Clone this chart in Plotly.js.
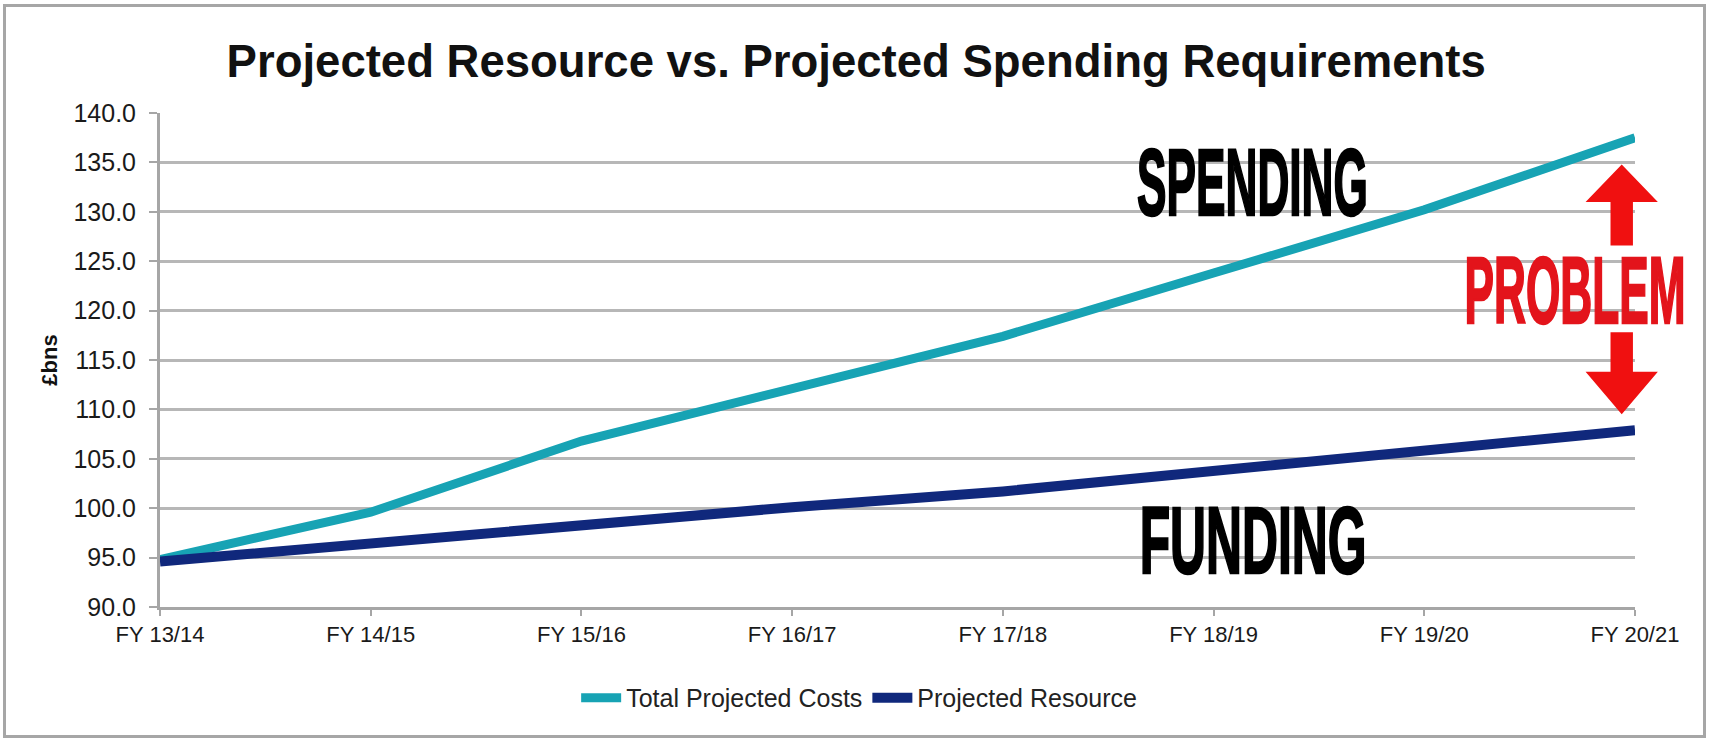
<!DOCTYPE html>
<html>
<head>
<meta charset="utf-8">
<script src="https://cdn.plot.ly/plotly-3.0.1.min.js"></script>
<style>
  html, body { margin: 0; padding: 0; background: #ffffff; }
  #wrap { position: relative; width: 1709px; height: 739px; }
  #chart { width: 1709px; height: 739px; }
  #frame { position: absolute; left: 3px; top: 4px; width: 1697px; height: 728px;
           border: 3px solid #a6a6a6; pointer-events: none; }
</style>
</head>
<body>
<div id="wrap">
  <div id="chart"></div>
  <div id="frame"></div>
</div>
<script>
const categories = ['FY 13/14', 'FY 14/15', 'FY 15/16', 'FY 16/17', 'FY 17/18', 'FY 18/19', 'FY 19/20', 'FY 20/21'];
const totalProjectedCosts = [94.8, 99.6, 106.8, 112.0, 117.4, 123.8, 130.2, 137.5];
const projectedResource = [94.6, 96.4, 98.4, 100.1, 101.7, 103.7, 105.8, 107.9];
const seriesNames = ['Total Projected Costs', 'Projected Resource'];
const yTickValues = [90, 95, 100, 105, 110, 115, 120, 125, 130, 135, 140];
const titleText = 'Projected Resource vs. Projected Spending Requirements';
const yTitleText = '£bns';
const labelSpending = 'SPENDING';
const labelFunding = 'FUNDING';
const labelProblem = 'PROBLEM';

const traces = [
  { x: categories, y: totalProjectedCosts, name: seriesNames[0], type: 'scatter', mode: 'lines',
    line: { color: '#17a3b4', width: 9 } },
  { x: categories, y: projectedResource, name: seriesNames[1], type: 'scatter', mode: 'lines',
    line: { color: '#10287c', width: 10 } }
];

// arrow geometry (decoration), paper x / data y
const ax = 0.991, headW = 0.0245, shaftW = 0.0076;
const upTip = 134.8, upBase = 131.0, upEnd = 126.6;
const dnTip = 109.5, dnBase = 113.8, dnEnd = 117.8;
function arrowPath(tip, base, end) {
  return 'M ' + ax + ',' + tip +
    ' L ' + (ax + headW) + ',' + base +
    ' L ' + (ax + shaftW) + ',' + base +
    ' L ' + (ax + shaftW) + ',' + end +
    ' L ' + (ax - shaftW) + ',' + end +
    ' L ' + (ax - shaftW) + ',' + base +
    ' L ' + (ax - headW) + ',' + base + ' Z';
}

const bigFont = { family: '"Liberation Sans Narrow", "Liberation Sans", Arial, sans-serif', size: 94, color: '#000000', weight: 'bold' };

const layout = {
  width: 1709, height: 739,
  margin: { l: 160, r: 74, t: 113, b: 132 },
  paper_bgcolor: '#ffffff', plot_bgcolor: '#ffffff',
  font: { family: '"Liberation Sans", Arial, sans-serif', color: '#222222' },
  title: { text: titleText, x: 0.501, xref: 'container', y: 0.918, yref: 'container', yanchor: 'middle',
           font: { family: '"Liberation Sans", Arial, sans-serif', size: 45.5, color: '#111111', weight: 'bold' } },
  showlegend: true,
  legend: { orientation: 'h', x: 0.474, xanchor: 'center', y: -0.184, yanchor: 'middle',
            font: { size: 25, color: '#222222' }, itemwidth: 40, tracegroupgap: 0 },
  xaxis: { type: 'category', range: [0, 7], showgrid: false, zeroline: false,
           showline: true, linecolor: '#a6a6a6', linewidth: 3,
           ticks: 'outside', ticklen: 6, tickwidth: 2, tickcolor: '#a6a6a6',
           ticklabelstandoff: 0, tickfont: { size: 22, color: '#1a1a1a' } },
  yaxis: { range: [90, 140], tickvals: yTickValues, tickformat: '.1f',
           showgrid: true, gridcolor: '#b7b7b7', gridwidth: 3, zeroline: false,
           showline: true, linecolor: '#a6a6a6', linewidth: 3,
           ticks: 'outside', ticklen: 8, tickwidth: 2, tickcolor: '#a6a6a6',
           ticklabelstandoff: 8, tickfont: { size: 25, color: '#1a1a1a' },
           title: { text: yTitleText, standoff: 10, font: { size: 22, color: '#111111', weight: 'bold' } } },
  annotations: [
    { text: labelSpending, xref: 'paper', yref: 'y', x: 0.741, y: 133.0, showarrow: false,
      xanchor: 'center', yanchor: 'middle', font: bigFont },
    { text: labelFunding, xref: 'paper', yref: 'y', x: 0.741, y: 96.7, showarrow: false,
      xanchor: 'center', yanchor: 'middle', font: bigFont },
    { text: labelProblem, xref: 'paper', yref: 'y', x: 0.959, y: 122.0, showarrow: false,
      xanchor: 'center', yanchor: 'middle', font: Object.assign({}, bigFont, { color: '#e3141b' }) }
  ],
  shapes: [
    { type: 'path', xref: 'paper', yref: 'y', path: arrowPath(upTip, upBase, upEnd), fillcolor: '#f01010', line: { width: 0 } },
    { type: 'path', xref: 'paper', yref: 'y', path: arrowPath(dnTip, dnBase, dnEnd), fillcolor: '#f01010', line: { width: 0 } }
  ]
};

Plotly.newPlot('chart', traces, layout, { displayModeBar: false, staticPlot: true }).then(function () {
  const scales = { 'SPENDING': 0.47, 'FUNDING': 0.53, 'PROBLEM': 0.47 };
  document.querySelectorAll('.annotation-text').forEach(function (t) {
    const s = scales[t.textContent];
    if (s) {
      t.style.transformBox = 'fill-box';
      t.style.transformOrigin = 'center';
      t.style.transform = 'scaleX(' + s + ')';
      t.style.stroke = t.style.fill || '#000';
      t.style.strokeWidth = '2.5px';
    }
  });
});
</script>
</body>
</html>
